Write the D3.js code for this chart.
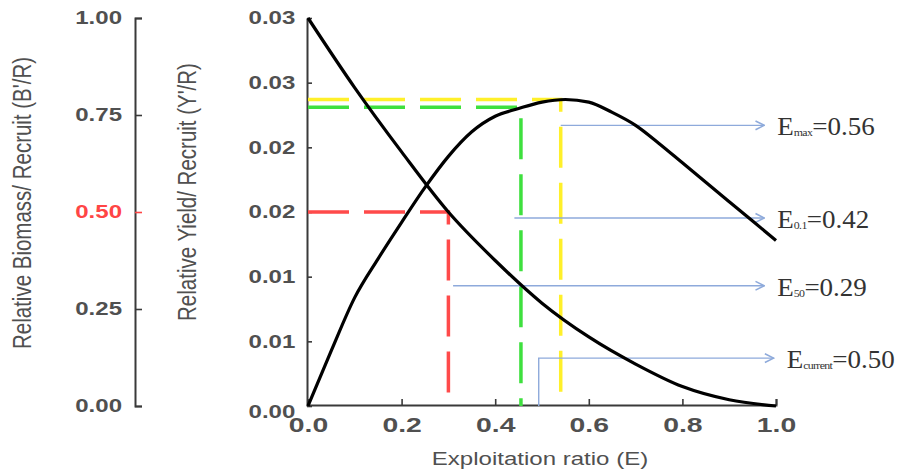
<!DOCTYPE html>
<html>
<head>
<meta charset="utf-8">
<title>Relative yield and biomass per recruit</title>
<script src="https://cdn.jsdelivr.net/npm/d3@7"></script>
<style>
  body { margin: 0; background: #fff; }
  text { font-family: "Liberation Sans", Arial, sans-serif; }
</style>
</head>
<body>
<div id="chart"></div>
<script>
// tick values and labels
var eTicks = [0, 0.2, 0.4, 0.6, 0.8, 1.0];
var bTicks = [0, 0.25, 0.5, 0.75, 1.0];
var yTicks = [0, 0.005, 0.01, 0.015, 0.02, 0.025, 0.03];
var yTickLabels = ["0.00", "0.01", "0.01", "0.02", "0.02", "0.03", "0.03"];

// relative biomass per recruit (B'/R)
var biomassE = [0, 0.1, 0.2, 0.3, 0.4, 0.5, 0.6, 0.7, 0.8, 0.9, 1.0];
var biomass  = [1.00, 0.82, 0.655, 0.50, 0.375, 0.265, 0.178, 0.108, 0.05, 0.016, 0.0];

// relative yield per recruit (Y'/R)
var yieldE = [0, 0.05, 0.1, 0.15, 0.2, 0.25, 0.3, 0.35, 0.4, 0.45, 0.5,
              0.55, 0.6, 0.65, 0.7, 0.75, 0.8, 0.85, 0.9, 0.95, 1.0];
var yieldY = [0, 0.0043, 0.0084, 0.0114, 0.0142, 0.0169, 0.0193, 0.0212, 0.0224, 0.0230, 0.0235,
              0.0237, 0.0235, 0.0227, 0.0217, 0.0203, 0.0188, 0.0173, 0.0158, 0.0143, 0.0128];

// dashed reference lines (E50, E0.1, Emax)
var refE     = [0.30, 0.455, 0.54];
var refLevel = [0.015, 0.0231, 0.0237];
var refColor = ["#ff4a4a", "#3ee03e", "#fff02a"];

// annotations
var annoSub    = ["max", "0.1", "50", "current"];
var annoValue  = ["0.56", "0.42", "0.29", "0.50"];
var annoStartE = [0.54, 0.441, 0.31, 0.493];
var annoEndE   = [0.975, 0.975, 0.975, 0.995];
var annoLevel  = [0.0217, 0.01454, 0.0093, 0.0037];

var width = 909, height = 471;
var sx = 1.3; // the source picture is stretched horizontally

var svg = d3.select("#chart").append("svg")
    .attr("width", width).attr("height", height);

var x = d3.scaleLinear().domain([0, 1]).range([308, 776]);
var yB = d3.scaleLinear().domain([0, 1]).range([406, 18]);
var yY = d3.scaleLinear().domain([0, 0.03]).range([406, 18]);

var textColor = "#505050";

svg.append("defs").append("marker")
    .attr("id", "arrow")
    .attr("viewBox", "0 0 10 10")
    .attr("refX", 9).attr("refY", 5)
    .attr("markerWidth", 11).attr("markerHeight", 11)
    .attr("markerUnits", "userSpaceOnUse")
    .attr("orient", "auto")
  .append("path")
    .attr("d", "M1,1 L9,5 L1,9")
    .attr("fill", "none")
    .attr("stroke", "#8eaadb")
    .attr("stroke-width", 1.4);

function styleAxis(g, size, stretch) {
  g.select(".domain").attr("stroke", "#3a3a3a").attr("stroke-width", 2);
  g.selectAll(".tick line").attr("stroke", "#3a3a3a").attr("stroke-width", 1.6);
  g.selectAll(".tick text")
    .attr("fill", textColor)
    .style("font-size", size + "px")
    .style("font-weight", "bold")
    .attr("transform", "scale(" + stretch + ",1)");
}

// left axis (B'/R)
var gLeft = svg.append("g")
    .attr("transform", "translate(135,0)")
    .call(d3.axisLeft(yB).tickValues(bTicks).tickFormat(d3.format(".2f"))
      .tickSizeInner(-7).tickSizeOuter(-7).tickPadding(10));
styleAxis(gLeft, 18.5, sx);
gLeft.selectAll(".tick").filter(function(d) { return d === 0.5; })
    .call(function(t) {
      t.select("text").attr("fill", "#ff4545");
      t.select("line").attr("stroke", "#ff4545");
    });

// right plot y axis (Y'/R)
var gY = svg.append("g")
    .attr("transform", "translate(307,0)")
    .call(d3.axisLeft(yY).tickValues(yTicks)
      .tickFormat(function(d, i) { return yTickLabels[i]; })
      .tickSizeInner(-5).tickSizeOuter(0).tickPadding(9));
styleAxis(gY, 18.5, sx);
gY.selectAll(".tick").filter(function(d) { return d === 0; })
    .select("text").attr("dy", "0.6em");

// x axis
var gX = svg.append("g")
    .attr("transform", "translate(0,405)")
    .call(d3.axisBottom(x).tickValues(eTicks).tickFormat(d3.format(".1f"))
      .tickSizeInner(-6).tickSizeOuter(-6).tickPadding(12));
styleAxis(gX, 21, 1.35);

// axis titles
svg.append("text")
    .attr("transform", "translate(31,203) scale(" + sx + ",1) rotate(-90)")
    .attr("text-anchor", "middle")
    .attr("fill", textColor)
    .style("font-size", "20.5px")
    .text("Relative Biomass/ Recruit (B'/R)");

svg.append("text")
    .attr("transform", "translate(196,192) scale(" + sx + ",1) rotate(-90)")
    .attr("text-anchor", "middle")
    .attr("fill", textColor)
    .style("font-size", "20.5px")
    .text("Relative Yield/ Recruit (Y'/R)");

svg.append("text")
    .attr("transform", "translate(540,465) scale(" + sx + ",1)")
    .attr("text-anchor", "middle")
    .attr("fill", textColor)
    .style("font-size", "18.5px")
    .text("Exploitation ratio (E)");

// dashed reference lines
var refs = d3.range(refE.length).map(function(i) {
  return { e: refE[i], level: refLevel[i], color: refColor[i] };
});
svg.append("g").selectAll("path")
    .data(refs)
  .enter().append("path")
    .attr("d", function(d) {
      return "M" + x(0) + "," + yY(d.level) +
             "H" + x(d.e) + "V" + yY(0);
    })
    .attr("fill", "none")
    .attr("stroke", function(d) { return d.color; })
    .attr("stroke-width", 3.5)
    .attr("stroke-dasharray", "41,15");

// annotation arrows
var annos = d3.range(annoSub.length).map(function(i) {
  return { sub: annoSub[i], value: annoValue[i], e0: annoStartE[i],
           e1: annoEndE[i], level: annoLevel[i], drop: annoSub[i] === "current" };
});
svg.append("g").selectAll("path")
    .data(annos)
  .enter().append("path")
    .attr("d", function(d) {
      var p = d.drop ? "M" + x(d.e0) + "," + yY(0) + "V" + yY(d.level)
                     : "M" + x(d.e0) + "," + yY(d.level);
      return p + "H" + x(d.e1);
    })
    .attr("fill", "none")
    .attr("stroke", "#8eaadb")
    .attr("stroke-width", 1.4)
    .attr("marker-end", "url(#arrow)");

// curves
var line = d3.line().curve(d3.curveMonotoneX);

svg.append("path")
    .datum(biomassE.map(function(e, i) { return [x(e), yB(biomass[i])]; }))
    .attr("d", line)
    .attr("fill", "none")
    .attr("stroke", "#000")
    .attr("stroke-width", 3.2);

svg.append("path")
    .datum(yieldE.map(function(e, i) { return [x(e), yY(yieldY[i])]; }))
    .attr("d", line)
    .attr("fill", "none")
    .attr("stroke", "#000")
    .attr("stroke-width", 3.2);

// annotation labels
var labels = svg.append("g").selectAll("text")
    .data(annos)
  .enter().append("text")
    .attr("transform", function(d) {
      return "translate(" + (x(d.e1) + 13) + "," + (yY(d.level) + 10) + ") scale(1.08,1)";
    })
    .attr("fill", "#333")
    .style("font-family", "'Liberation Serif', 'Times New Roman', serif")
    .style("font-size", "25px");
labels.append("tspan").text("E");
labels.append("tspan")
    .style("font-size", "11px")
    .style("letter-spacing", "-0.6px")
    .attr("dy", 1)
    .text(function(d) { return d.sub; });
labels.append("tspan")
    .attr("dy", -1)
    .text(function(d) { return "=" + d.value; });
</script>
</body>
</html>
